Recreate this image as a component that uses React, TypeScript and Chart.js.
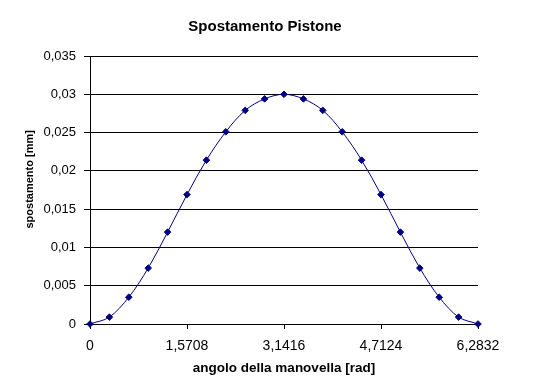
import { useEffect, useRef } from 'react';
import { Chart, registerables } from 'chart.js';

Chart.register(...registerables);

const angles = [
  0, 0.3142, 0.6283, 0.9425, 1.2566, 1.5708, 1.885, 2.1991, 2.5133, 2.8274, 3.1416,
  3.4558, 3.7699, 4.0841, 4.3982, 4.7124, 5.0265, 5.3407, 5.6549, 5.969, 6.2832,
];
const displacement = [
  0, 0.0009, 0.0035, 0.0073, 0.012, 0.0169, 0.0214, 0.0251, 0.0279, 0.0294, 0.03,
  0.0294, 0.0279, 0.0251, 0.0214, 0.0169, 0.012, 0.0073, 0.0035, 0.0009, 0,
];
const xTickValues = [0, 1.5708, 3.1416, 4.7124, 6.2832];
const yTickValues = [0, 0.005, 0.01, 0.015, 0.02, 0.025, 0.03, 0.035];

const chartTitle = 'Spostamento Pistone';
const xAxisTitle = 'angolo della manovella [rad]';
const yAxisTitle = 'spostamento [mm]';

const FONT = '"Liberation Sans", Arial, sans-serif';
const fmt = (v: number) => String(Number(v.toFixed(6))).replace('.', ',');

export default function App() {
  const ref = useRef<HTMLCanvasElement>(null);

  useEffect(() => {
    if (!ref.current) return;
    const chart = new Chart(ref.current, {
      type: 'line',
      data: {
        datasets: [
          {
            data: angles.map((x, i) => ({ x, y: displacement[i] })),
            borderColor: '#000080',
            backgroundColor: '#000080',
            borderWidth: 1,
            tension: 0.33,
            fill: false,
            clip: false,
            pointStyle: 'rectRot',
            pointRadius: 3.3,
            pointBorderWidth: 1,
            pointBackgroundColor: '#000080',
            pointBorderColor: '#000080',
          },
        ],
      },
      options: {
        animation: false,
        responsive: true,
        maintainAspectRatio: false,
        devicePixelRatio: 1,
        layout: { padding: { left: 0, right: 8, top: 0, bottom: 0 } },
        plugins: {
          legend: { display: false },
          tooltip: { enabled: false },
          title: {
            display: true,
            text: chartTitle,
            color: '#000',
            font: { family: FONT, size: 15, weight: 'bold' },
            padding: { top: 18, bottom: 20 },
          },
        },
        scales: {
          x: {
            type: 'linear',
            min: 0,
            max: 6.2832,
            afterBuildTicks: (s: any) => {
              s.ticks = xTickValues.map((v) => ({ value: v }));
            },
            afterFit: (s: any) => {
              s.height = 61;
            },
            ticks: {
              color: '#000',
              font: { family: FONT, size: 14 },
              padding: 9,
              maxRotation: 0,
              autoSkip: false,
              callback: (v: any) => fmt(Number(v)),
            },
            grid: {
              drawOnChartArea: false,
              drawTicks: true,
              tickLength: 5,
              color: '#000',
              tickColor: '#000',
            },
            border: { display: true, color: '#000', width: 1 },
            title: {
              display: true,
              text: xAxisTitle,
              color: '#000',
              font: { family: FONT, size: 13.5, weight: 'bold' },
              padding: { top: 0, bottom: 9 },
            },
          },
          y: {
            type: 'linear',
            position: 'left',
            min: 0,
            max: 0.035,
            afterBuildTicks: (s: any) => {
              s.ticks = yTickValues.map((v) => ({ value: v }));
            },
            afterFit: (s: any) => {
              s.width = 90;
            },
            ticks: {
              color: '#000',
              font: { family: FONT, size: 13 },
              padding: 8,
              autoSkip: false,
              callback: (v: any) => fmt(Number(v)),
            },
            grid: {
              drawOnChartArea: true,
              drawTicks: true,
              tickLength: 6,
              color: '#000',
              tickColor: '#000',
              lineWidth: 1,
            },
            border: { display: true, color: '#000', width: 1 },
            title: {
              display: true,
              text: '       ' + yAxisTitle,
              color: '#000',
              font: { family: FONT, size: 11, weight: 'bold' },
              padding: { top: 23, bottom: 0 },
            },
          },
          yRightSpace: {
            type: 'linear',
            position: 'right',
            display: true,
            min: 0,
            max: 0.035,
            afterFit: (s: any) => {
              s.width = 52;
            },
            ticks: { display: false },
            grid: { display: false, drawOnChartArea: false, drawTicks: false },
            border: { display: false },
            title: { display: false },
          },
        },
      },
    });
    return () => chart.destroy();
  }, []);

  return (
    <div style={{ position: 'fixed', left: 0, top: 0, width: 538, height: 385, background: '#fff' }}>
      <canvas ref={ref} />
    </div>
  );
}
